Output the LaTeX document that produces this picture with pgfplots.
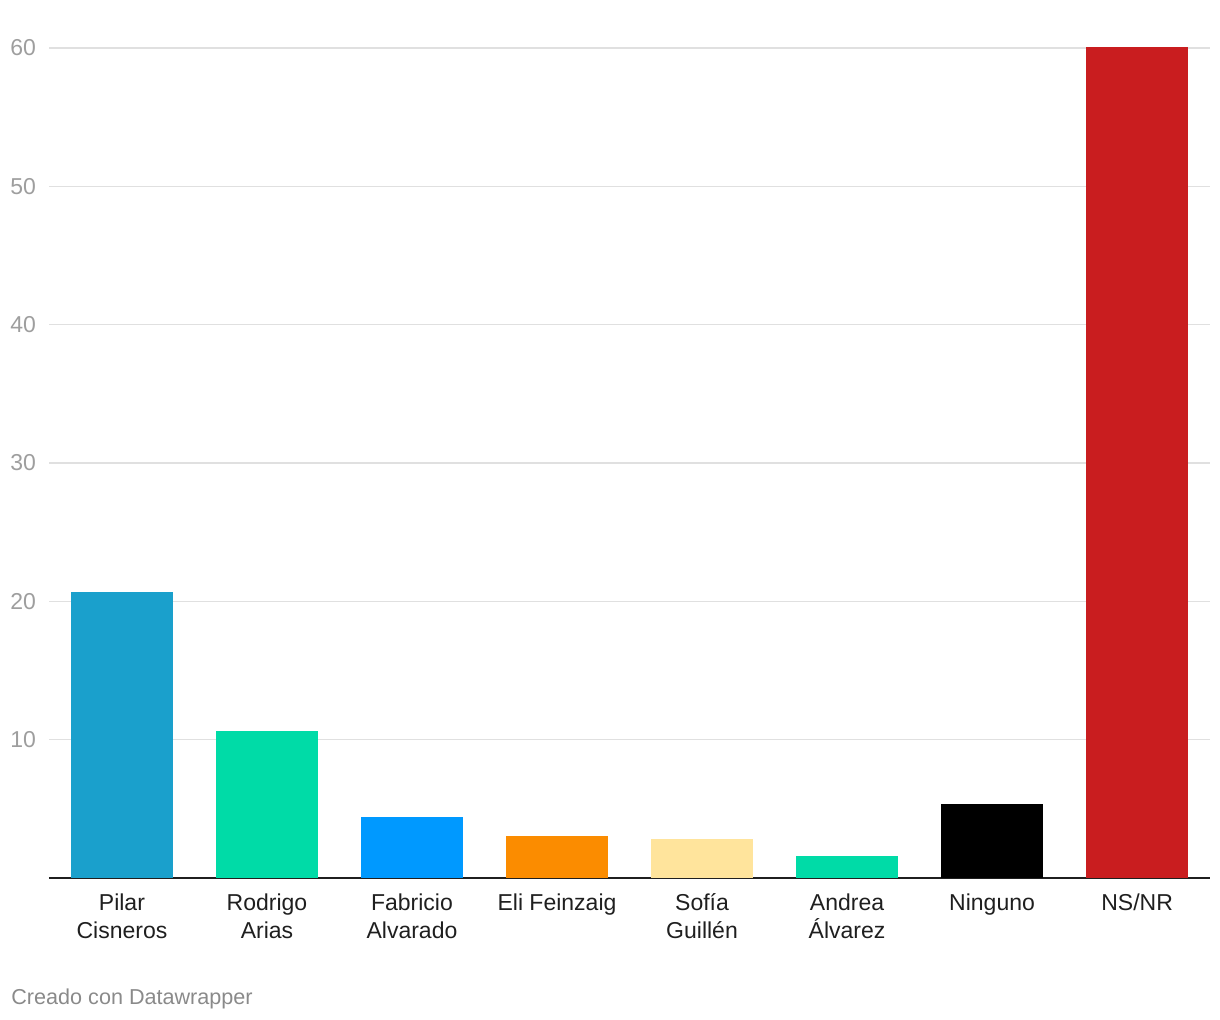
\documentclass[border=0pt]{standalone}
\usepackage{pgfplots}
\pgfplotsset{compat=1.18}
\usepackage{fontspec}
\setmainfont{Liberation Sans}
\definecolor{cPilar}{HTML}{1AA0CC}
\definecolor{cRod}{HTML}{00DBA7}
\definecolor{cFab}{HTML}{0099FF}
\definecolor{cEli}{HTML}{FB8C00}
\definecolor{cSof}{HTML}{FFE49C}
\definecolor{cAnd}{HTML}{00DBA7}
\definecolor{cNin}{HTML}{000000}
\definecolor{cNS}{HTML}{C91D1F}
\definecolor{gridc}{HTML}{E0E0E0}
\definecolor{tickc}{HTML}{9E9E9E}
\definecolor{labc}{HTML}{1F1F1F}
\definecolor{footc}{HTML}{8A8A8A}
\begin{document}
\begin{tikzpicture}
\useasboundingbox (0,0) rectangle (610bp,510bp);
\begin{axis}[
  at={(24.5bp,71bp)}, anchor=south west,
  scale only axis, width=580.5bp, height=415bp,
  xmin=-0.503, xmax=7.503, ymin=0, ymax=60,
  clip=false,
  axis x line=bottom, axis y line=left,
  y axis line style={draw=none},
  x axis line style={-, draw=labc, line width=1.1bp},
  major tick length=0pt,
  ytick={10,20,30,40,50,60},
  ymajorgrids, grid style={gridc, line width=0.8bp},
  xtick={0,1,2,3,4,5,6,7},
  xticklabels={{Pilar\\Cisneros},{Rodrigo\\Arias},{Fabricio\\Alvarado},{Eli Feinzaig},{Sofía\\Guillén},{Andrea\\Álvarez},{Ninguno},{NS/NR}},
  xticklabel style={align=center, font=\fontsize{11.5bp}{14bp}\selectfont, text=labc, anchor=north, yshift=-4.5bp},
  yticklabel style={font=\fontsize{11.5bp}{14bp}\selectfont, text=tickc, anchor=east, xshift=-3bp},
  /pgf/number format/assume math mode=true,
  ybar, bar width=0.703, bar shift=0pt,
  every axis plot/.append style={draw=none},
]
\addplot[fill=cPilar] coordinates {(0,20.7)};
\addplot[fill=cRod] coordinates {(1,10.65)};
\addplot[fill=cFab] coordinates {(2,4.43)};
\addplot[fill=cEli] coordinates {(3,3.06)};
\addplot[fill=cSof] coordinates {(4,2.84)};
\addplot[fill=cAnd] coordinates {(5,1.6)};
\addplot[fill=cNin] coordinates {(6,5.37)};
\addplot[fill=cNS] coordinates {(7,60.1)};
\end{axis}
\node[anchor=base west, inner sep=0pt, text=footc, font=\fontsize{10.8bp}{13bp}\selectfont] at (5.5bp,8bp) {Creado con Datawrapper};
\end{tikzpicture}
\end{document}
